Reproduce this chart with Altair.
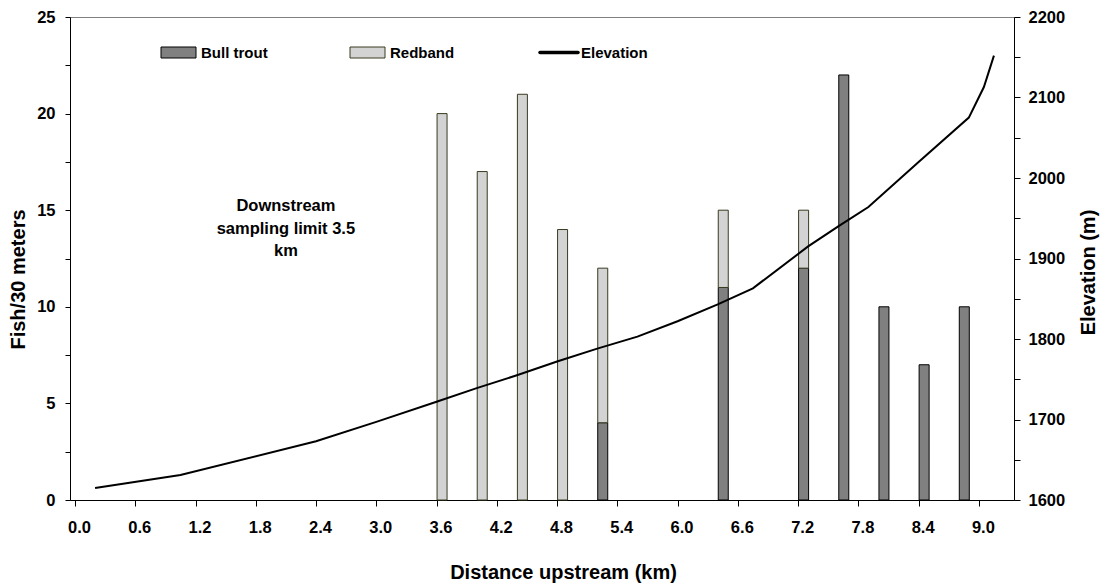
import altair as alt
import pandas as pd

FONT = "Liberation Sans"

# Sampling sites (km upstream) and fish densities (fish per 30 m)
SITE_KM = [3.6, 4.0, 4.4, 4.8, 5.2, 6.4, 7.2, 7.6, 8.0, 8.4, 8.8]
BULL_TROUT = [0, 0, 0, 0, 4, 11, 12, 22, 10, 7, 10]
REDBAND = [20, 17, 21, 14, 8, 4, 3, 0, 0, 0, 0]

# Stream profile
ELEV_KM = [0.2, 1.05, 2.4, 3.0, 3.6, 4.0, 4.4, 4.8, 5.2, 5.6, 6.0, 6.4,
           6.75, 7.3, 7.6, 7.9, 8.4, 8.9, 9.05, 9.15]
ELEV_M = [1615, 1631, 1673, 1697, 1722, 1739, 1755, 1772, 1788, 1803, 1822, 1843,
          1863, 1915, 1940, 1964, 2020, 2075, 2113, 2152]

# Axis ticks
X_TICKS = [0.0, 0.3, 0.6, 0.9, 1.2, 1.5, 1.8, 2.1, 2.4, 2.7, 3.0, 3.3, 3.6, 3.9,
           4.2, 4.5, 4.8, 5.1, 5.4, 5.7, 6.0, 6.3, 6.6, 6.9, 7.2, 7.5, 7.8, 8.1,
           8.4, 8.7, 9.0, 9.3]
FISH_TICKS = [0, 2.5, 5, 7.5, 10, 12.5, 15, 17.5, 20, 22.5, 25]
ELEV_TICKS = [1600, 1650, 1700, 1750, 1800, 1850, 1900, 1950, 2000, 2050, 2100,
              2150, 2200]

SPECIES = ["Bull trout", "Redband"]
NOTE_TEXT = ["Downstream", "sampling limit 3.5", "km"]
NOTE_KM, NOTE_FISH = 2.1, 15.2

# Stacked segments: bull trout at the bottom, redband above it
rows = []
for km, bt, rb in zip(SITE_KM, BULL_TROUT, REDBAND):
    if bt > 0:
        rows.append({"km": km, "species": "Bull trout", "lo": 0, "hi": bt})
    if rb > 0:
        rows.append({"km": km, "species": "Redband", "lo": bt, "hi": bt + rb})
bars_df = pd.DataFrame(rows)
elev_df = pd.DataFrame({"km": ELEV_KM, "elev": ELEV_M})
note_df = pd.DataFrame({"km": [NOTE_KM], "fish": [NOTE_FISH], "text": [NOTE_TEXT]})

x_scale = alt.Scale(domain=[0, 9.3], nice=False, zero=False)
x_axis = alt.Axis(
    values=X_TICKS, format=".1f",
    labelExpr="round(datum.value * 10) % 6 == 0 ? format(datum.value, '.1f') : ''",
    title="Distance upstream (km)", grid=False,
    tickSize=6, labelPadding=13, labelOffset=4,
    titleX=493, titleY=78, titleBaseline="alphabetic", titleAlign="center",
)

bars = alt.Chart(bars_df).mark_bar(width=10, xOffset=5.5, strokeWidth=1).encode(
    x=alt.X("km:Q", scale=x_scale, axis=x_axis),
    y=alt.Y("lo:Q", scale=alt.Scale(domain=[0, 25], nice=False),
            axis=alt.Axis(values=FISH_TICKS, grid=False, tickSize=5, labelPadding=10,
                          labelExpr="datum.value % 5 == 0 ? datum.label : ''",
                          title="Fish/30 meters", titleAngle=270, titleX=-46, titleY=262,
                          titleBaseline="alphabetic", titleAlign="center")),
    y2="hi:Q",
    fill=alt.Fill("species:N", scale=alt.Scale(domain=SPECIES, range=["#808080", "#d3d3d3"]),
                  legend=None),
    stroke=alt.Stroke("species:N", scale=alt.Scale(domain=SPECIES, range=["#000000", "#3a3a20"]),
                      legend=None),
)

note = alt.Chart(note_df).mark_text(
    font=FONT, fontSize=16.5, fontWeight="bold", color="#000000",
    align="center", baseline="middle", lineHeight=22.5,
).encode(x=alt.X("km:Q", scale=x_scale), y=alt.Y("fish:Q"), text="text")

left = alt.layer(bars, note)

line = alt.Chart(elev_df).mark_line(color="#000000", strokeWidth=2).encode(
    x=alt.X("km:Q", scale=x_scale),
    y=alt.Y("elev:Q", scale=alt.Scale(domain=[1600, 2200], nice=False, zero=False),
            axis=alt.Axis(orient="right", values=ELEV_TICKS, grid=False, tickSize=6,
                          labelPadding=8, format="d",
                          labelExpr="datum.value % 100 == 0 ? format(datum.value, 'd') : ''",
                          title="Elevation (m)", titleAngle=270, titleX=80, titleY=255,
                          titleBaseline="alphabetic", titleAlign="center")),
)

# Legend drawn inside the plot area
one = pd.DataFrame({"k": [0]})
leg_font = dict(font=FONT, fontSize=15, fontWeight="bold", color="#000000",
                align="left", baseline="middle")
leg_bt_box = alt.Chart(one).mark_rect(fill="#808080", stroke="#000000", strokeWidth=1).encode(
    x=alt.value(91), x2=alt.value(126), y=alt.value(30), y2=alt.value(41))
leg_bt_txt = alt.Chart(one).mark_text(**leg_font).encode(
    x=alt.value(131), y=alt.value(36), text=alt.value("Bull trout"))
leg_rb_box = alt.Chart(one).mark_rect(fill="#d3d3d3", stroke="#3a3a20", strokeWidth=1).encode(
    x=alt.value(280), x2=alt.value(315), y=alt.value(30), y2=alt.value(41))
leg_rb_txt = alt.Chart(one).mark_text(**leg_font).encode(
    x=alt.value(320), y=alt.value(36), text=alt.value("Redband"))
leg_el_line = alt.Chart(one).mark_rule(color="#000000", strokeWidth=3.5, strokeCap="round").encode(
    x=alt.value(470), x2=alt.value(508), y=alt.value(35.5))
leg_el_txt = alt.Chart(one).mark_text(**leg_font).encode(
    x=alt.value(511), y=alt.value(36), text=alt.value("Elevation"))

legend = alt.layer(leg_bt_box, leg_bt_txt, leg_rb_box, leg_rb_txt, leg_el_line, leg_el_txt)

chart = alt.layer(left, line, legend).resolve_scale(y="independent").properties(
    width=944, height=483,
    autosize=alt.AutoSizeParams(type="none"),
    padding={"left": 70, "top": 17, "right": 93, "bottom": 83},
    background="#ffffff",
).configure_view(
    stroke="#808080", strokeWidth=1,
).configure_axis(
    labelFont=FONT, labelFontSize=16.5, labelFontWeight="bold", labelColor="#000000",
    titleFont=FONT, titleFontSize=20, titleFontWeight="bold", titleColor="#000000",
    domainColor="#000000", tickColor="#000000", domainWidth=1, tickWidth=1,
)

chart.save("out.html", embed_options={"renderer": "svg", "actions": False})
